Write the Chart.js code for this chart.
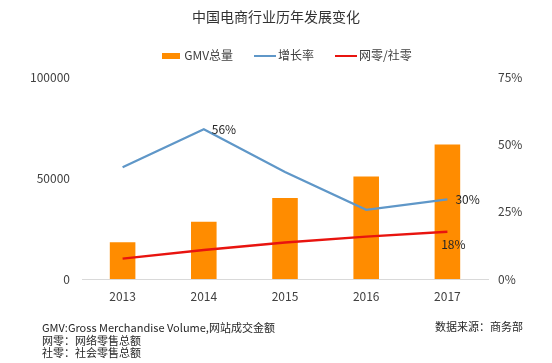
<!DOCTYPE html>
<html>
<head>
<meta charset="utf-8">
<script src="https://cdn.jsdelivr.net/npm/chart.js@4/dist/chart.umd.min.js"></script>
<style>
html,body{margin:0;padding:0;background:#fff;}
#wrap{position:relative;width:552px;height:363px;overflow:hidden;font-family:"Noto Sans CJK SC","Noto Sans",sans-serif;}
#c{position:absolute;left:0;top:0;}
.note{position:absolute;font-size:11px;line-height:12.5px;color:#262626;white-space:nowrap;}
</style>
</head>
<body>
<div id="wrap">
<canvas id="c" width="552" height="363"></canvas>
<div class="note" id="n1" style="left:42px;top:321px;"></div>
<div class="note" id="n2" style="left:435px;top:320px;"></div>
</div>
<script>
const titleText = "中国电商行业历年发展变化";
const categories = ["2013", "2014", "2015", "2016", "2017"];
const gmvValues = [18300, 28500, 40300, 51000, 66800];
const growthRates = [41.7, 55.8, 39.9, 25.8, 29.7];
const onlineShare = [7.6, 10.8, 13.6, 15.8, 17.6];
const seriesNames = ["GMV总量", "增长率", "网零/社零"];
const leftTicks = [0, 50000, 100000];
const rightTicks = [0, 25, 50, 75];
const pointLabels = [
  {dataset: 0, index: 1, text: "56%"},
  {dataset: 0, index: 4, text: "30%"},
  {dataset: 1, index: 4, text: "18%"}
];
const footnotes = ["GMV:Gross Merchandise Volume,网站成交金额", "网零：网络零售总额", "社零：社会零售总额"];
const sourceText = "数据来源：商务部";

document.getElementById('n1').innerHTML = footnotes.join('<br>');
document.getElementById('n2').textContent = sourceText;

const FONT = '"Noto Sans CJK SC", "Noto Sans", sans-serif';
const ORANGE = '#FF8C00';
const BLUE = '#5F97C8';
const RED = '#E8140F';
const TXT = '#404040';

function makeIcon(w, h, color) {
  const cv = document.createElement('canvas');
  cv.width = w; cv.height = h;
  const g = cv.getContext('2d');
  g.fillStyle = color;
  g.fillRect(0, 0, w, h);
  return cv;
}
const icons = [makeIcon(18, 6, ORANGE), makeIcon(22, 2, BLUE), makeIcon(22, 2, RED)];

const labelPlugin = {
  id: 'pointLabels',
  beforeLayout(chart) {
    const lg = chart.legend;
    if (lg && !lg._patched) {
      const orig = lg.fit.bind(lg);
      lg.fit = function () { orig(); this.height += 6; };
      lg._patched = true;
    }
  },
  afterLayout(chart) {
    const lg = chart.legend;
    if (lg) { lg.left += 12; lg.right += 12; }
  },
  afterDatasetsDraw(chart) {
    const ctx = chart.ctx;
    ctx.save();
    ctx.font = '12px ' + FONT;
    ctx.fillStyle = '#262626';
    ctx.textBaseline = 'middle';
    pointLabels.forEach(p => {
      const el = chart.getDatasetMeta(p.dataset).data[p.index];
      if (!el) return;
      if (p.dataset === 1) {
        ctx.textAlign = 'center';
        ctx.fillText(p.text, el.x + 6, el.y + 13);
      } else {
        ctx.textAlign = 'left';
        ctx.fillText(p.text, el.x + 8, el.y);
      }
    });
    ctx.restore();
  }
};

new Chart(document.getElementById('c'), {
  data: {
    labels: categories,
    datasets: [
      {
        type: 'line', label: seriesNames[1], data: growthRates, yAxisID: 'y1',
        borderColor: BLUE, backgroundColor: BLUE, borderWidth: 2.2,
        pointRadius: 0, tension: 0, fill: false, order: 1
      },
      {
        type: 'line', label: seriesNames[2], data: onlineShare, yAxisID: 'y1',
        borderColor: RED, backgroundColor: RED, borderWidth: 2.4,
        pointRadius: 0, tension: 0, fill: false, order: 0
      },
      {
        type: 'bar', label: seriesNames[0], data: gmvValues, yAxisID: 'y',
        backgroundColor: ORANGE, borderWidth: 0,
        barPercentage: 0.35, categoryPercentage: 0.9, order: 2
      }
    ]
  },
  plugins: [labelPlugin],
  options: {
    responsive: false,
    animation: false,
    devicePixelRatio: 1,
    layout: { padding: { left: 0, right: 0, top: 0, bottom: 62 } },
    plugins: {
      title: {
        display: true, text: titleText, color: '#333333',
        font: { family: FONT, size: 14, weight: 'normal', lineHeight: 1.2 },
        padding: { top: 8, bottom: 0 }
      },
      legend: {
        display: true, position: 'top',
        labels: {
          font: { family: FONT, size: 12 }, color: TXT,
          usePointStyle: true, pointStyleWidth: 14, padding: 25,
          generateLabels(chart) {
            const order = [2, 0, 1];
            return order.map((di, k) => ({
              text: chart.data.datasets[di].label,
              pointStyle: icons[k],
              fillStyle: chart.data.datasets[di].backgroundColor,
              strokeStyle: 'rgba(0,0,0,0)',
              lineWidth: 0,
              hidden: false,
              datasetIndex: di,
              fontColor: TXT
            }));
          }
        }
      },
      tooltip: { enabled: false }
    },
    scales: {
      x: {
        grid: { display: false, drawTicks: false },
        border: { display: true, color: '#D9D9D9', width: 1 },
        ticks: { color: TXT, font: { family: FONT, size: 12 }, padding: 10, maxRotation: 0 },
        afterFit(s) { s.height = 22; }
      },
      y: {
        position: 'left', min: 0, max: 100000,
        grid: { display: false, drawTicks: false },
        border: { display: false },
        afterBuildTicks(s) { s.ticks = leftTicks.map(v => ({ value: v })); },
        ticks: { color: TXT, font: { family: FONT, size: 12 }, padding: 12, callback: v => String(v) },
        afterFit(s) { s.width = 82; }
      },
      y1: {
        position: 'right', min: 0, max: 75,
        grid: { display: false, drawTicks: false },
        border: { display: false },
        afterBuildTicks(s) { s.ticks = rightTicks.map(v => ({ value: v })); },
        ticks: { color: TXT, font: { family: FONT, size: 12 }, padding: 10, callback: v => v + '%' },
        afterFit(s) { s.width = 64; }
      }
    }
  }
});
</script>
</body>
</html>
